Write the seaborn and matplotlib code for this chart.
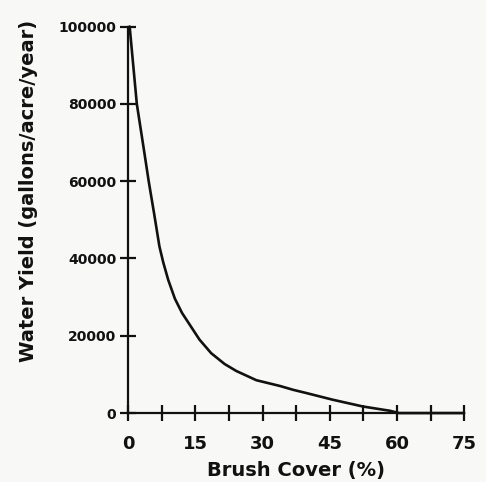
import matplotlib
matplotlib.use("Agg")
import matplotlib.pyplot as plt
import seaborn as sns
import pandas as pd
from matplotlib.ticker import MultipleLocator

# Data
brush_cover = [0.3, 0.85, 1.9, 3.6, 4.55, 5.75, 6.95, 7.8, 8.9, 10.4, 12.0, 15.9, 18.5, 21.5, 24.1,
               28.6, 33.9, 36.8, 39.8, 45.7, 52.4, 58.4, 60.5, 67.5, 75.0]
water_yield = [100000, 93100, 80000, 67250, 60000, 51700, 43100, 39000, 34500, 29600, 25900, 19000, 15500,
               12700, 10900, 8500, 7000, 6020, 5170, 3440, 1700, 600, 0, 0, 0]
x_ticks = [0, 15, 30, 45, 60, 75]
y_ticks = [0, 20000, 40000, 60000, 80000, 100000]

df = pd.DataFrame({"Brush Cover (%)": brush_cover, "Water Yield": water_yield})

sns.set_theme(style="ticks")
plt.rcParams["font.family"] = ["DejaVu Sans"]

bg = "#f8f8f7"
fig = plt.figure(figsize=(4.86, 4.82), dpi=100, facecolor=bg)
ax = fig.add_axes([0.264, 0.143, 0.691, 0.802])
ax.set_facecolor(bg)

sns.lineplot(data=df, x="Brush Cover (%)", y="Water Yield", ax=ax,
             color="#111111", linewidth=1.9, clip_on=False, sort=False)

ax.set_xlim(0, 75)
ax.set_ylim(0, 100000)
ax.set_xticks(x_ticks)
ax.xaxis.set_minor_locator(MultipleLocator(7.5))
ax.set_yticks(y_ticks)
ax.set_xticklabels([str(t) for t in x_ticks], fontsize=13, fontweight="bold", color="#111111")
ax.set_yticklabels([str(t) for t in y_ticks], fontsize=10, fontweight="bold", color="#111111")

ax.tick_params(axis="x", which="both", direction="inout", length=12, width=1.6,
               color="#111111", pad=10)
ax.tick_params(axis="y", which="major", direction="inout", length=11, width=1.6,
               color="#111111", pad=3)

sns.despine(ax=ax)
for s in ["left", "bottom"]:
    ax.spines[s].set_linewidth(1.6)
    ax.spines[s].set_color("#111111")

ax.set_xlabel("Brush Cover (%)", fontsize=14, fontweight="bold", color="#111111")
ax.set_ylabel("Water Yield (gallons/acre/year)", fontsize=14, fontweight="bold", color="#111111")
ax.xaxis.set_label_coords(0.5, -0.125)
ax.yaxis.set_label_coords(-0.27, 0.574)

fig.savefig("out.png", dpi=100, facecolor=bg)
